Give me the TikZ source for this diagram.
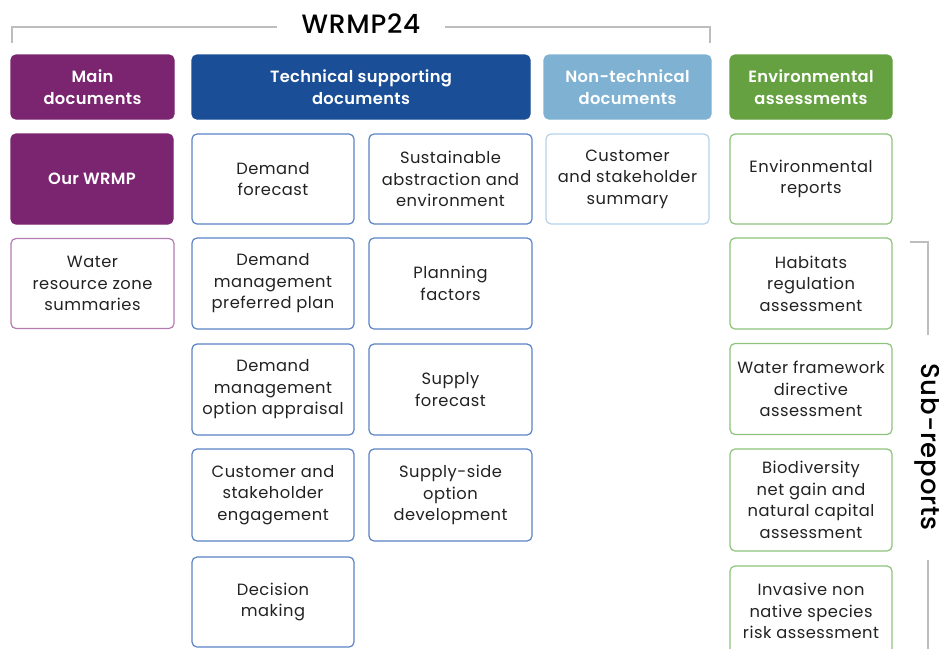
\documentclass[tikz,border=0pt]{standalone}
\usepackage{fontspec}
\setmainfont{Poppins}[LetterSpace=3]
\newfontfamily\medfont{Poppins Medium}[LetterSpace=3]
\newfontfamily\semifont{Poppins SemiBold}[LetterSpace=2]
\definecolor{cpurple}{HTML}{7B2570}
\definecolor{cblue}{HTML}{1A4E96}
\definecolor{clblue}{HTML}{7FB2D2}
\definecolor{cgreen}{HTML}{66A141}
\definecolor{bpurple}{HTML}{B47BB0}
\definecolor{bblue}{HTML}{5B83C6}
\definecolor{blblue}{HTML}{B6D3EA}
\definecolor{bgreen}{HTML}{8DC37B}
\definecolor{ctext}{HTML}{222222}
\definecolor{cgray}{HTML}{BDBDBD}
\tikzset{
  base/.style={rounded corners=5pt, align=center, inner sep=0pt, line width=1.2pt,
    font=\fontsize{16.3}{21.5}\selectfont, text=ctext},
  head/.style={base, fill=#1, draw=#1, text=white, font=\fontsize{16.3}{21.5}\selectfont\semifont},
  card/.style={base, fill=white, draw=#1},
  sz/.style 2 args={minimum width=#1pt, minimum height=#2pt},
  brk/.style={draw=cgray, line width=1.1pt}
}
\begin{document}
\begin{tikzpicture}[x=1pt,y=-1pt]
\useasboundingbox (0,0) rectangle (939,648);
\clip (0,0) rectangle (939,648);
% title and bracket
\node[font=\fontsize{26.5}{30}\selectfont\medfont, text=black, inner sep=0pt] (title) at (361,24) {WRMP24};
\coordinate (bl) at (12,43);
\coordinate (br) at (710,43);
\draw[brk] (bl) -- (12,27) -- (277,27);
\draw[brk] (445,27) -- (710,27) -- (br);
% headers
\node[head=cpurple, sz={163}{64}] (hmain) at (92.5,87) {Main\\documents};
\node[head=cblue, sz={338}{64}] (htech) at (361,87) {Technical supporting\\documents};
\node[head=clblue, sz={167}{64}] (hnon) at (627.5,87) {Non-technical\\documents};
\node[head=cgreen, sz={162}{64}] (henv) at (811,87) {Environmental\\assessments};
% row 1
\node[head=cpurple, sz={162}{90}] (wrmp) at (92,179) {Our WRMP};
\node[card=bblue, sz={162}{90}] (dfc) at (273,179) {Demand\\forecast};
\node[card=bblue, sz={163}{90}] (sae) at (450.5,179) {Sustainable\\abstraction and\\environment};
\node[card=blblue, sz={163}{90}] (css) at (627.5,179) {Customer\\and stakeholder\\summary};
\node[card=bgreen, sz={162}{90}] (env) at (811,179) {Environmental\\reports};
% row 2
\node[card=bpurple, sz={163}{90}] (wrz) at (92.5,283.5) {Water\\resource zone\\summaries};
\node[card=bblue, sz={162}{91}] (dmpp) at (273,283.5) {Demand\\management\\preferred plan};
\node[card=bblue, sz={163}{91}] (pf) at (450.5,283.5) {Planning\\factors};
\node[card=bgreen, sz={162}{91}] (hra) at (811,283.5) {Habitats\\regulation\\assessment};
% row 3
\node[card=bblue, sz={162}{91}] (dmoa) at (273,389.5) {Demand\\management\\option appraisal};
\node[card=bblue, sz={163}{91}] (sf) at (450.5,389.5) {Supply\\forecast};
\node[card=bgreen, sz={162}{91}] (wfd) at (811,389) {Water framework\\directive\\assessment};
% row 4
\node[card=bblue, sz={162}{92}] (cse) at (273,495) {Customer and\\stakeholder\\engagement};
\node[card=bblue, sz={163}{92}] (sod) at (450.5,495) {Supply-side\\option\\development};
\node[card=bgreen, sz={162}{102}] (bng) at (811,500) {Biodiversity\\net gain and\\natural capital\\assessment};
% row 5
\node[card=bblue, sz={162}{90}] (dm) at (273,602) {Decision\\making};
\node[card=bgreen, sz={162}{90}] (inns) at (811,611) {Invasive non\\native species\\risk assessment};
% sub-reports
\node[rotate=-90, font=\fontsize{26}{29}\selectfont\medfont, text=black, inner sep=0pt] (sub) at (928,447) {Sub-reports};
\coordinate (st) at (910,242);
\coordinate (sb) at (928,700);
\draw[brk] (st) -- (928,242) -- (928,335);
\draw[brk] (928,560) -- (sb);
\end{tikzpicture}
\end{document}
